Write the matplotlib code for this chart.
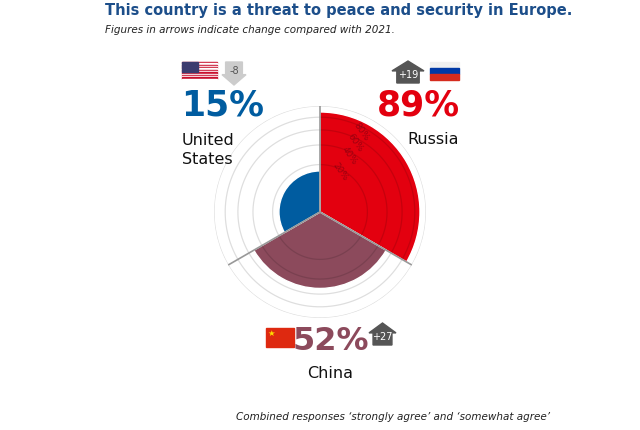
import numpy as np
import matplotlib
matplotlib.use("Agg")
import matplotlib.pyplot as plt
from matplotlib.patches import Polygon, Rectangle

countries = ["Russia", "China", "United\nStates"]
values = [89, 52, 15]
changes = ["+19", "+27", "-8"]
colors = ["#E3000F", "#8C4A5C", "#005CA0"]
rings = [20, 40, 60, 80, 100]
ring_labels = ["20%", "40%", "60%", "80%"]

W, H = 640, 430
fig = plt.figure(figsize=(6.4, 4.3), dpi=100)
cx, cy, R = 320, 212, 106
ax = fig.add_axes([(cx - R) / W, 1 - (cy + R) / H, 2 * R / W, 2 * R / H], projection="polar")
ax.set_theta_zero_location("N")
ax.set_theta_direction(-1)
ax.set_rscale("function", functions=(np.sqrt, np.square))
ax.set_ylim(0, 100)
ax.axis("off")

thetas = np.deg2rad([60, 180, 300])
ax.bar(thetas, values, width=np.deg2rad(120), color=colors, edgecolor="white", linewidth=1, zorder=2)
t = np.linspace(0, 2 * np.pi, 400)
for r in rings:
    ax.plot(t, np.full_like(t, r), color="black", alpha=0.13, lw=0.9, zorder=3)
for a in [0, 120, 240]:
    ax.plot([np.deg2rad(a)] * 2, [0, 100], color="#999999", lw=1.2, zorder=4)
for r, lab in zip(rings, ring_labels):
    ax.text(np.deg2rad(27), r * 0.9, lab, color="#8A0010", fontsize=6.5, rotation=-55,
            ha="center", va="center", zorder=5, alpha=0.8)

def px(x, y):
    return x / W, 1 - y / H

fig.text(*px(105, 11), "This country is a threat to peace and security in Europe.",
         fontsize=10.5, fontweight="bold", color="#1C4E8A", va="center", ha="left")
fig.text(*px(105, 30), "Figures in arrows indicate change compared with 2021.",
         fontsize=7.5, style="italic", color="#222222", va="center", ha="left")
fig.text(*px(550, 417), "Combined responses \u2018strongly agree\u2019 and \u2018somewhat agree\u2019",
         fontsize=7.5, style="italic", color="#222222", va="center", ha="right")

fig.text(*px(181, 106), f"{values[2]}%", fontsize=25, fontweight="bold", color=colors[2],
         ha="left", va="center")
fig.text(*px(182, 150), countries[2], fontsize=11.5, color="#111111", ha="left", va="center",
         linespacing=1.3)
fig.text(*px(460, 106), f"{values[0]}%", fontsize=25, fontweight="bold", color=colors[0],
         ha="right", va="center")
fig.text(*px(459, 139), countries[0], fontsize=11.5, color="#111111", ha="right", va="center")
fig.text(*px(331, 341), f"{values[1]}%", fontsize=23, fontweight="bold", color=colors[1],
         ha="center", va="center")
fig.text(*px(330, 373), countries[1], fontsize=11.5, color="#111111", ha="center", va="center")

def rect(x0, y0, w, h, c):
    fig.patches.append(Rectangle(px(x0, y0 + h), w / W, h / H, color=c, transform=fig.transFigure))

for i in range(7):
    rect(182, 62 + i * 18 / 7, 35, 9 / 7, "#C8102E")
    rect(182, 62 + i * 18 / 7 + 9 / 7, 35, 9 / 7, "white")
rect(182, 62, 16, 10, "#3C3B6E")
rect(430, 62, 29, 6, "#F0F0F0"); rect(430, 68, 29, 6, "#0039A6"); rect(430, 74, 29, 6, "#D52B1E")
rect(266, 328, 28, 19, "#DE2910")
fig.text(*px(271, 333), "\u2605", color="#FFDE00", fontsize=6, ha="center", va="center")

def arrow(x0, y0, w, h, up, c, txt, tc):
    if up:
        pts = [(x0 + w * 0.15, y0 + h), (x0 + w * 0.15, y0 + h * 0.45), (x0, y0 + h * 0.45),
               (x0 + w / 2, y0), (x0 + w, y0 + h * 0.45), (x0 + w * 0.85, y0 + h * 0.45), (x0 + w * 0.85, y0 + h)]
        ty = y0 + h * 0.62
    else:
        pts = [(x0 + w * 0.15, y0), (x0 + w * 0.85, y0), (x0 + w * 0.85, y0 + h * 0.55), (x0 + w, y0 + h * 0.55),
               (x0 + w / 2, y0 + h), (x0, y0 + h * 0.55), (x0 + w * 0.15, y0 + h * 0.55)]
        ty = y0 + h * 0.38
    fig.patches.append(Polygon([px(x, y) for x, y in pts], closed=True, color=c, transform=fig.transFigure))
    fig.text(*px(x0 + w / 2, ty), txt, color=tc, fontsize=7, ha="center", va="center")

arrow(222, 62, 24, 23, False, "#CCCCCC", changes[2], "#555555")
arrow(392, 61, 32, 22, True, "#555555", changes[0], "white")
arrow(369, 323, 27, 22, True, "#555555", changes[1], "white")

fig.savefig("out.png", dpi=100)
